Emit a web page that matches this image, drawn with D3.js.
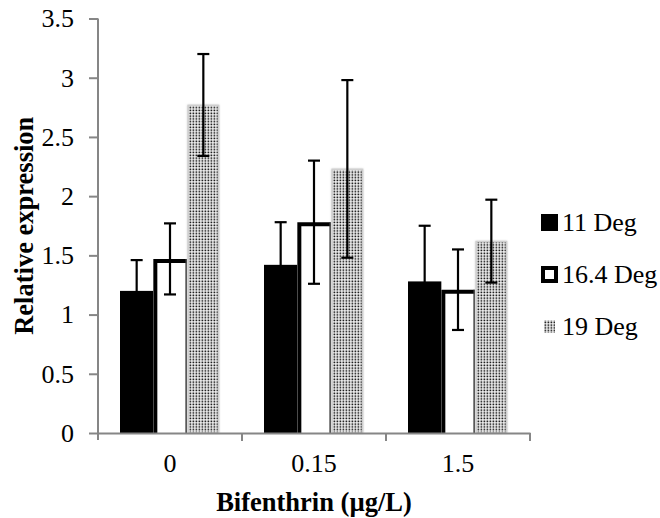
<!DOCTYPE html>
<html>
<head>
<meta charset="utf-8">
<script src="https://cdn.jsdelivr.net/npm/d3@7"></script>
<style>
  body { margin: 0; background: #fff; }
  svg { display: block; font-family: "Liberation Serif", "Times New Roman", serif; }
</style>
</head>
<body>
<div id="chart"></div>
<script>
// data
var categories = ["0", "0.15", "1.5"];
var seriesNames = ["11 Deg", "16.4 Deg", "19 Deg"];
var means = [
    [1.20, 1.42, 1.28],   // 11 Deg
    [1.47, 1.78, 1.21],   // 16.4 Deg
    [2.77, 2.23, 1.62]    // 19 Deg
];
var errors = [
    [0.26, 0.36, 0.47],
    [0.30, 0.52, 0.34],
    [0.43, 0.75, 0.35]
];
var yTicks = [0, 0.5, 1, 1.5, 2, 2.5, 3, 3.5];

var W = 660, H = 518;
var plotL = 98, plotR = 530, plotT = 18.5, plotB = 433;
var axisGray = "#868686";

var svg = d3.select("#chart").append("svg")
    .attr("width", W)
    .attr("height", H);

// dotted fill for 19 Deg
var defs = svg.append("defs");
var pat = defs.append("pattern")
    .attr("id", "dots")
    .attr("patternUnits", "userSpaceOnUse")
    .attr("width", 3).attr("height", 2.8);
pat.append("rect").attr("width", 3).attr("height", 2.8).attr("fill", "#fff");
pat.append("rect").attr("x", 0.5).attr("y", 0.5).attr("width", 1.8).attr("height", 1.6).attr("fill", "#111");

var blur = defs.append("filter").attr("id", "soft").attr("x", "-20%").attr("y", "-5%").attr("width", "140%").attr("height", "110%");
blur.append("feGaussianBlur").attr("stdDeviation", 1);

var y = d3.scaleLinear().domain([0, 3.5]).range([plotB, plotT]);
var x0 = d3.scaleBand().domain(categories).range([plotL, plotR]).padding(0);
var x1 = d3.scaleBand().domain(seriesNames).range([22, x0.bandwidth() - 22]).padding(0);

// bars
var rows = [];
categories.forEach((c, ci) => {
    seriesNames.forEach((s, si) => {
        rows.push({ cat: c, series: s, si: si, v: means[si][ci], e: errors[si][ci] });
    });
});

var bars = svg.append("g");
rows.forEach(d => {
    var bx = x0(d.cat) + x1(d.series);
    var bw = x1.bandwidth();
    var by = y(d.v);
    var bh = plotB - by;
    if (d.si === 0) {
        bars.append("rect")
            .attr("x", bx).attr("y", by).attr("width", bw).attr("height", bh)
            .attr("fill", "#000");
    } else if (d.si === 1) {
        bars.append("rect")
            .attr("x", bx).attr("y", by).attr("width", bw).attr("height", bh)
            .attr("fill", "#fff");
        bars.append("path")
            .attr("d", `M${bx + 2},${plotB} V${by + 2} H${bx + bw}`)
            .attr("fill", "none").attr("stroke", "#000").attr("stroke-width", 4);
        bars.append("line")
            .attr("x1", bx + bw - 0.5).attr("x2", bx + bw - 0.5)
            .attr("y1", by).attr("y2", plotB)
            .attr("stroke", "#333").attr("stroke-width", 1.5);
    } else {
        bars.append("rect")
            .attr("x", bx + 1).attr("y", by).attr("width", bw - 2).attr("height", bh)
            .attr("fill", "#bbb").attr("filter", "url(#soft)");
        bars.append("rect")
            .attr("x", bx + 1.5).attr("y", by + 0.5).attr("width", bw - 3).attr("height", bh - 0.5)
            .attr("fill", "url(#dots)").attr("stroke", "#cfcfcf").attr("stroke-width", 1.5);
    }
});

// error bars
var eb = svg.append("g").attr("stroke", "#000").attr("stroke-width", 2.2);
rows.forEach(d => {
    var cx = x0(d.cat) + x1(d.series) + x1.bandwidth() / 2;
    eb.append("line").attr("x1", cx).attr("x2", cx).attr("y1", y(d.v + d.e)).attr("y2", y(d.v - d.e));
    eb.append("line").attr("x1", cx - 6).attr("x2", cx + 6).attr("y1", y(d.v + d.e)).attr("y2", y(d.v + d.e));
    eb.append("line").attr("x1", cx - 6).attr("x2", cx + 6).attr("y1", y(d.v - d.e)).attr("y2", y(d.v - d.e));
});

// y axis
var yAxis = svg.append("g")
    .attr("transform", `translate(${plotL},0)`)
    .call(d3.axisLeft(y).tickValues(yTicks).tickFormat(d3.format("")).tickSizeOuter(0).tickSize(9).tickPadding(15));
yAxis.select(".domain").attr("stroke", axisGray).attr("stroke-width", 2).attr("d", `M0,${plotT}V${plotB + 7}`);
yAxis.selectAll(".tick line").attr("stroke", axisGray).attr("stroke-width", 2);
yAxis.selectAll(".tick text")
    .attr("font-family", "Liberation Serif, serif")
    .attr("font-size", 26).attr("fill", "#000");

// x axis
var xAxis = svg.append("g")
    .attr("transform", `translate(0,${plotB})`)
    .call(d3.axisBottom(x0).tickSize(0).tickSizeOuter(0).tickPadding(21));
xAxis.select(".domain").attr("stroke", axisGray).attr("stroke-width", 2);
xAxis.selectAll(".tick text")
    .attr("font-family", "Liberation Serif, serif")
    .attr("font-size", 26).attr("fill", "#000");
xAxis.selectAll(".sep")
    .data(categories)
    .enter().append("line")
    .attr("x1", d => x0(d) + x0.bandwidth()).attr("x2", d => x0(d) + x0.bandwidth())
    .attr("y1", 0).attr("y2", 8)
    .attr("stroke", axisGray).attr("stroke-width", 2);

// axis titles
svg.append("text")
    .attr("x", (plotL + plotR) / 2).attr("y", 511)
    .attr("text-anchor", "middle")
    .attr("font-size", 26.5).attr("font-weight", "bold")
    .text("Bifenthrin (µg/L)");

svg.append("text")
    .attr("transform", `translate(33,${(plotT + plotB) / 2}) rotate(-90)`)
    .attr("text-anchor", "middle")
    .attr("font-size", 26.5).attr("font-weight", "bold")
    .text("Relative expression");

// legend
var legend = svg.append("g");
seriesNames.forEach((s, i) => {
    var ly = 231 + i * 52;
    var g = legend.append("g").attr("transform", `translate(541,${ly})`);
    if (i === 0) {
        g.append("rect").attr("x", 0).attr("y", -17).attr("width", 17).attr("height", 17).attr("fill", "#000");
    } else if (i === 1) {
        g.append("rect").attr("x", 2).attr("y", -15).attr("width", 13).attr("height", 13)
            .attr("fill", "#fff").attr("stroke", "#000").attr("stroke-width", 4);
    } else {
        g.append("rect").attr("x", 3).attr("y", -15).attr("width", 11).attr("height", 13)
            .attr("fill", "url(#dots)");
    }
    g.append("text").attr("x", 21).attr("y", 0)
        .attr("font-size", 26)
        .text(s);
});
</script>
</body>
</html>
